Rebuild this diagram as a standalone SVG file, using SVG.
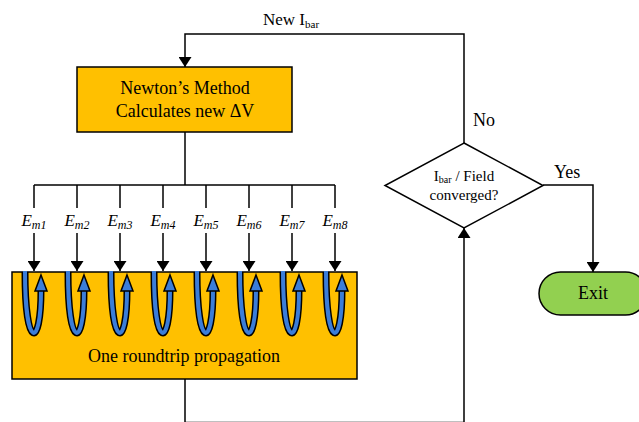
<svg xmlns="http://www.w3.org/2000/svg" xmlns:xlink="http://www.w3.org/1999/xlink" width="639" height="422" viewBox="0 0 639 422">
  <style>
    .wire { fill: none; stroke: #000; stroke-width: 1.5; }
    .box { stroke: #000; stroke-width: 1.5; }
    text { font-family: "Liberation Serif", Tinos, "Times New Roman", "DejaVu Serif", serif; fill: #000; }
    .em { font-style: italic; font-size: 17px; text-anchor: middle; }
    .sub { font-size: 12px; }
  </style>
  <defs>
    <marker id="arrow" viewBox="0 0 10 13" refX="10" refY="6.5" markerWidth="10" markerHeight="13" markerUnits="userSpaceOnUse" orient="auto">
      <path d="M0,0 L10,6.5 L0,13 Z" fill="#000"/>
    </marker>
    <!-- one round trip loop, drawn relative to the arrow x position -->
    <g id="loop">
      <path d="M-9,272 C-9,350 7,350 7,290" fill="none" stroke="#000" stroke-width="7"/>
      <path d="M-9,271 C-9,350 7,350 7,290" fill="none" stroke="#3B7DD8" stroke-width="4"/>
      <polygon points="7,275 13,291 1,291" fill="#3B7DD8" stroke="#000" stroke-width="1.5" stroke-linejoin="miter"/>
    </g>
  </defs>

  <!-- connectors -->
  <g id="connectors">
    <!-- feedback: new I_bar back into Newton's method -->
    <polyline class="wire" points="464,143 464,34 185,34 185,67" marker-end="url(#arrow)"/>
    <!-- Newton box to distribution bus -->
    <polyline class="wire" points="185,132 185,185"/>
    <line class="wire" x1="34" y1="185" x2="335" y2="185"/>
    <g id="bus-drops">
      <line class="wire" x1="34" y1="185" x2="34" y2="208"/>
      <line class="wire" x1="77" y1="185" x2="77" y2="208"/>
      <line class="wire" x1="120" y1="185" x2="120" y2="208"/>
      <line class="wire" x1="163" y1="185" x2="163" y2="208"/>
      <line class="wire" x1="206" y1="185" x2="206" y2="208"/>
      <line class="wire" x1="249" y1="185" x2="249" y2="208"/>
      <line class="wire" x1="292" y1="185" x2="292" y2="208"/>
      <line class="wire" x1="335" y1="185" x2="335" y2="208"/>
      <line class="wire" x1="34" y1="233" x2="34" y2="271" marker-end="url(#arrow)"/>
      <line class="wire" x1="77" y1="233" x2="77" y2="271" marker-end="url(#arrow)"/>
      <line class="wire" x1="120" y1="233" x2="120" y2="271" marker-end="url(#arrow)"/>
      <line class="wire" x1="163" y1="233" x2="163" y2="271" marker-end="url(#arrow)"/>
      <line class="wire" x1="206" y1="233" x2="206" y2="271" marker-end="url(#arrow)"/>
      <line class="wire" x1="249" y1="233" x2="249" y2="271" marker-end="url(#arrow)"/>
      <line class="wire" x1="292" y1="233" x2="292" y2="271" marker-end="url(#arrow)"/>
      <line class="wire" x1="335" y1="233" x2="335" y2="271" marker-end="url(#arrow)"/>
    </g>
    <!-- propagation result back to convergence check -->
    <polyline class="wire" points="185,379 185,422.6 464,422.6 464,228" marker-end="url(#arrow)"/>
    <!-- Yes: to exit -->
    <polyline class="wire" points="543,185 593,185 593,272" marker-end="url(#arrow)"/>
  </g>

  <g id="label-new-ibar">
    <text x="263" y="25" font-size="17">New I<tspan font-size="11" dy="3">bar</tspan></text>
  </g>
  <g id="label-no">
    <text x="473" y="126" font-size="18">No</text>
  </g>
  <g id="label-yes">
    <text x="554" y="178" font-size="18">Yes</text>
  </g>

  <!-- Newton's method block -->
  <g id="newton">
    <rect class="box" x="77" y="67" width="215" height="65" fill="#FFC000"/>
    <text x="185" y="94" font-size="18" text-anchor="middle">Newton’s Method</text>
    <text x="185" y="117" font-size="18" text-anchor="middle">Calculates new ΔV</text>
  </g>

  <!-- field labels -->
  <g id="field-labels">
    <text class="em" x="34" y="226">E<tspan class="sub" dy="3">m1</tspan></text>
    <text class="em" x="77" y="226">E<tspan class="sub" dy="3">m2</tspan></text>
    <text class="em" x="120" y="226">E<tspan class="sub" dy="3">m3</tspan></text>
    <text class="em" x="163" y="226">E<tspan class="sub" dy="3">m4</tspan></text>
    <text class="em" x="206" y="226">E<tspan class="sub" dy="3">m5</tspan></text>
    <text class="em" x="249" y="226">E<tspan class="sub" dy="3">m6</tspan></text>
    <text class="em" x="292" y="226">E<tspan class="sub" dy="3">m7</tspan></text>
    <text class="em" x="335" y="226">E<tspan class="sub" dy="3">m8</tspan></text>
  </g>

  <!-- round trip propagation block -->
  <g id="propagation">
    <rect class="box" x="12" y="272" width="345" height="107" fill="#FFC000"/>
    <use xlink:href="#loop" x="34"/>
    <use xlink:href="#loop" x="77"/>
    <use xlink:href="#loop" x="120"/>
    <use xlink:href="#loop" x="163"/>
    <use xlink:href="#loop" x="206"/>
    <use xlink:href="#loop" x="249"/>
    <use xlink:href="#loop" x="292"/>
    <use xlink:href="#loop" x="335"/>
    <text x="184" y="362" font-size="18" text-anchor="middle">One roundtrip propagation</text>
  </g>

  <!-- convergence decision -->
  <g id="decision">
    <polygon class="box" points="464,143 543,185.5 464,228 385,185.5" fill="#fff"/>
    <text x="464" y="181" font-size="15" text-anchor="middle">I<tspan font-size="10" dy="2">bar</tspan><tspan dy="-2"> / Field</tspan></text>
    <text x="464" y="200" font-size="15" text-anchor="middle">converged?</text>
  </g>

  <!-- exit terminal -->
  <g id="exit">
    <rect class="box" x="539" y="272" width="108" height="43" rx="21.5" ry="21.5" fill="#92D050"/>
    <text x="593" y="299" font-size="18" text-anchor="middle">Exit</text>
  </g>
</svg>
